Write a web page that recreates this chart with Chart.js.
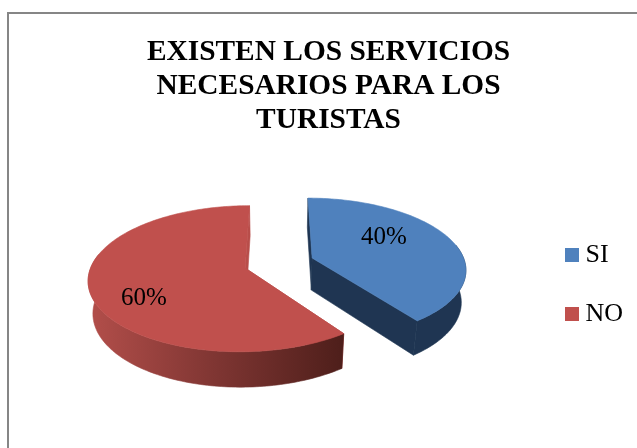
<!DOCTYPE html>
<html>
<head>
    <title>Servicios para los turistas</title>
    <script src="https://cdn.jsdelivr.net/npm/chart.js"></script>
    <style>
        html, body { margin: 0; width: 637px; height: 448px; overflow: hidden; background: #fff; }
        #frame { position: absolute; left: 7px; top: 12px; width: 640px; height: 450px; border: 2px solid #868686; }
    </style>
</head>
<body>
    <div id="frame"><canvas id="chart" width="640" height="450"></canvas></div>

    <script>
        var categories = ['SI', 'NO'];
        var values = [40, 60];
        var titleLines = ['EXISTEN LOS SERVICIOS', 'NECESARIOS PARA LOS', 'TURISTAS'];
        var topColors = ['#4f81bd', '#c0504d'];
        var wallColors = ['#1f3552', null];
        var cutColors = ['#1f3552', '#b84e4a'];

        Chart.defaults.font.family = "'Liberation Serif', serif";
        Chart.defaults.color = '#000';

        // doughnut controller has no 3D mode, so the arcs are projected by hand
        var pie3d = {
            id: 'pie3d',
            afterLayout: function(chart, args, o) {
                // the legend sits lower and further left than the layout puts it
                var legend = chart.legend;
                legend.right += o.legendLeft - legend.left;
                legend.left = o.legendLeft;
                legend.bottom += o.legendTop - legend.top;
                legend.top = o.legendTop;
            },
            beforeDatasetsDraw: function(chart, args, o) {
                var ctx = chart.ctx;
                var arcs = chart.getDatasetMeta(0).data;

                function project(x, y, z) {
                    var s = 1 / (1 - o.perspective * y + o.shrink * z);
                    return { x: o.cx + o.rx * x * s, y: o.cy + o.ry * y * s + o.depth * z * s };
                }

                function slicePoint(mid, r, a, z) {
                    return project(
                        o.explode * Math.cos(mid) + r * Math.cos(a),
                        o.explode * Math.sin(mid) + r * Math.sin(a),
                        z
                    );
                }

                function fillPath(pts, fill) {
                    ctx.beginPath();
                    pts.forEach(function(p, i) {
                        if (i === 0) ctx.moveTo(p.x, p.y);
                        else ctx.lineTo(p.x, p.y);
                    });
                    ctx.closePath();
                    ctx.fillStyle = fill;
                    ctx.strokeStyle = fill;
                    ctx.lineWidth = 0.6;
                    ctx.fill();
                    ctx.stroke();
                }

                arcs.forEach(function(arc, i) {
                    var a0 = arc.startAngle, a1 = arc.endAngle, mid = (a0 + a1) / 2;
                    var n = Math.ceil((a1 - a0) / 0.02);
                    var rim = [], wallTop = [], wallLow = [];
                    for (var k = 0; k <= n; k++) {
                        var a = a0 + (a1 - a0) * k / n;
                        rim.push(slicePoint(mid, 1, a, 0));
                        // only the front of the rim shows a wall
                        if (Math.sin(a) > -0.2) {
                            wallTop.push(rim[k]);
                            wallLow.push(slicePoint(mid, 1, a, 1));
                        }
                    }

                    var wall = wallColors[i];
                    if (!wall) {
                        wall = ctx.createLinearGradient(o.cx - o.rx * 1.2, 0, o.cx + o.rx * 0.4, 0);
                        o.redWall.forEach(function(c, j) {
                            wall.addColorStop(j / (o.redWall.length - 1), c);
                        });
                    }

                    var apexTop = slicePoint(mid, 0, a0, 0);
                    var apexLow = slicePoint(mid, 0, a0, 1);
                    var lastLow = slicePoint(mid, 1, a1, 1);
                    var firstLow = slicePoint(mid, 1, a0, 1);
                    // cut faces first, then the outer wall, then the top
                    fillPath([apexTop, rim[0], firstLow, apexLow], cutColors[i]);
                    fillPath([apexTop, rim[n], lastLow, apexLow], cutColors[i]);
                    fillPath(wallLow.concat(wallTop.reverse()), wall);
                    fillPath([apexTop].concat(rim), topColors[i]);
                });

                ctx.fillStyle = '#000';
                ctx.font = o.labelSize + "px 'Liberation Serif'";
                ctx.textAlign = 'center';
                ctx.textBaseline = 'middle';
                values.forEach(function(v, i) {
                    ctx.fillText(v + '%', o.cx + o.labelOffset[i][0], o.cy + o.labelOffset[i][1]);
                });
                return false;
            }
        };

        var chart = new Chart(document.getElementById('chart'), {
            type: 'pie',
            data: {
                labels: categories,
                datasets: [{
                    data: values,
                    backgroundColor: topColors,
                    borderWidth: 0
                }]
            },
            plugins: [pie3d],
            options: {
                responsive: false,
                animation: false,
                layout: { padding: { right: 1 } },
                plugins: {
                    tooltip: { enabled: false },
                    title: {
                        display: true,
                        text: titleLines,
                        font: { size: 29.4, weight: 'bold', lineHeight: 34 / 29.4 },
                        padding: { top: 21, bottom: 10 }
                    },
                    legend: {
                        position: 'right',
                        align: 'start',
                        labels: {
                            font: { size: 26 },
                            padding: 33,
                            boxWidth: 1,
                            boxHeight: 1,
                            // thick stroke around a tiny box gives the 14px square marker
                            generateLabels: function(c) {
                                return categories.map(function(name, i) {
                                    return {
                                        text: name,
                                        fillStyle: topColors[i],
                                        strokeStyle: topColors[i],
                                        lineWidth: 13,
                                        index: i
                                    };
                                });
                            }
                        }
                    },
                    pie3d: {
                        cx: 270,
                        cy: 249,
                        rx: 153,
                        ry: 70,
                        perspective: 0.145,
                        shrink: 0.025,
                        depth: 33,
                        explode: 0.23,
                        redWall: ['#b04d49', '#7e3532', '#4f1f1b'],
                        labelSize: 25,
                        labelOffset: [[105, -26], [-135, 35]],
                        legendLeft: 529.5,
                        legendTop: 195
                    }
                }
            }
        });
    </script>
</body>
</html>
